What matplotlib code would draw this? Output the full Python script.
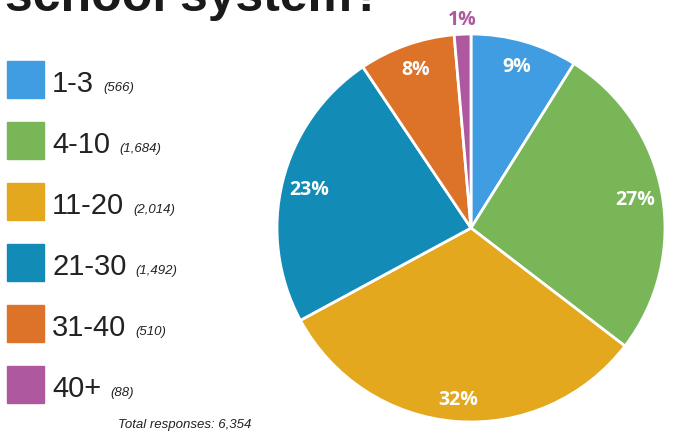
import numpy as np
import matplotlib.pyplot as plt
from matplotlib.patches import Rectangle

labels = ['1-3', '4-10', '11-20', '21-30', '31-40', '40+']
counts = [566, 1684, 2014, 1492, 510, 88]
colors = ['#409DE2', '#78B657', '#E3A81E', '#138BB7', '#DD7229', '#AE58A0']
title = 'school system?'

W, H = 673, 433
fig = plt.figure(figsize=(W/100, H/100), dpi=100)

# Titel (oben abgeschnitten)
fig.text(5/W, 1 - 11/H, title, fontsize=36, fontweight='bold', color='#1a1a1a',
         family='Liberation Sans', va='baseline', ha='left')

# Torte
ax = fig.add_axes([277/W, 11/H, 388/W, 388/H])
total = sum(counts)
wedges, _ = ax.pie(counts, colors=colors, startangle=90, counterclock=False,
                   radius=1, wedgeprops=dict(edgecolor='white', linewidth=2))
ax.set_xlim(-1, 1)
ax.set_ylim(-1, 1)
ax.set_aspect('equal')
ax.axis('off')

for w, c, col in zip(wedges, counts, colors):
    ang = np.deg2rad((w.theta1 + w.theta2) / 2)
    pct = '{:.0f}%'.format(100 * c / total)
    if c / total < 0.03:
        ax.text(1.08*np.cos(ang), 1.085*np.sin(ang), pct, color=col, fontsize=14,
                fontweight='bold', family='Open Sans', ha='center',
                va='center_baseline', clip_on=False)
    else:
        ax.text(0.86*np.cos(ang), 0.875*np.sin(ang), pct, color='white', fontsize=14,
                fontweight='bold', family='Open Sans', ha='center',
                va='center_baseline')

# Legende
for i, (lab, c, col) in enumerate(zip(labels, counts, colors)):
    yc = 80 + i*61
    fig.patches.append(Rectangle((7/W, 1 - (yc + 18)/H), 37/W, 37/H,
                                 transform=fig.transFigure, color=col))
    t = fig.text(52/W, 1 - (yc + 12)/H, lab, fontsize=21, color='#222222',
                 family='Liberation Sans', va='baseline', ha='left')
    fig.canvas.draw()
    bb = t.get_window_extent()
    fig.text((bb.x1 + 9)/W, 1 - (yc + 11)/H, '({:,})'.format(c), fontsize=9.5,
             style='italic', color='#222222', family='Liberation Sans',
             va='baseline', ha='left')

fig.text(118/W, 1 - 428/H, 'Total responses: {:,}'.format(total), fontsize=9.5,
         style='italic', color='#222222', family='Liberation Sans', va='baseline')

fig.savefig('out.png', dpi=100)
